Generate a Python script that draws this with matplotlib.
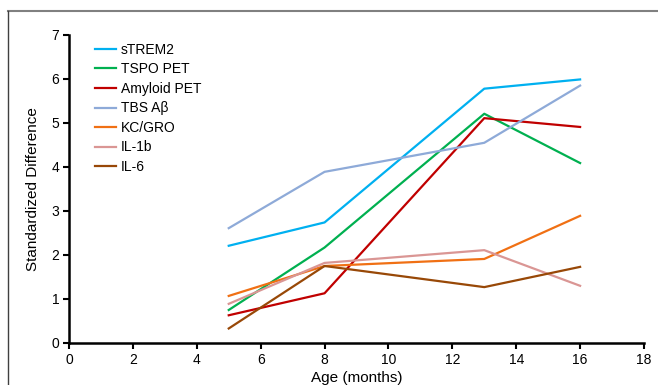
import matplotlib.pyplot as plt
from matplotlib.lines import Line2D

plt.rcParams['font.family'] = 'sans-serif'
plt.rcParams['font.sans-serif'] = ['Liberation Sans', 'DejaVu Sans']

# Ages (months) and standardized differences
ages = [5, 8, 13, 16]
strem2 = [2.21, 2.74, 5.78, 5.99]
tspo_pet = [0.75, 2.17, 5.21, 4.09]
amyloid_pet = [0.63, 1.13, 5.11, 4.91]
tbs_abeta = [2.61, 3.89, 4.55, 5.85]
kc_gro = [1.07, 1.75, 1.91, 2.89]
il_1b = [0.89, 1.82, 2.11, 1.30]
il_6 = [0.33, 1.75, 1.27, 1.73]

series = [
    ('sTREM2', strem2, '#00b0f0'),
    ('TSPO PET', tspo_pet, '#00b050'),
    ('Amyloid PET', amyloid_pet, '#c00000'),
    ('TBS A\u03b2', tbs_abeta, '#8eaad8'),
    ('KC/GRO', kc_gro, '#f07014'),
    ('IL-1b', il_1b, '#da9694'),
    ('IL-6', il_6, '#984807'),
]

fig = plt.figure(figsize=(6.58, 3.85), dpi=100, facecolor='white')
ax = fig.add_axes([0.1049, 0.1091, 0.8738, 0.8000])

for name, vals, col in series:
    ax.plot(ages, vals, color=col, lw=1.6, label=name)

ax.set_xlim(0, 18)
ax.set_ylim(0, 7)
ax.set_xticks(range(0, 19, 2))
ax.set_yticks(range(0, 8))
ax.spines['top'].set_visible(False)
ax.spines['right'].set_visible(False)
ax.spines['left'].set_linewidth(1.8)
ax.spines['bottom'].set_linewidth(1.8)
ax.tick_params(direction='out', length=4, width=1.5, labelsize=10, pad=3)

ax.set_xlabel('Age (months)', fontsize=11, labelpad=3)
ax.set_ylabel('Standardized Difference', fontsize=11, labelpad=8)

ax.legend(loc='upper left', bbox_to_anchor=(0.045, 0.975), frameon=False,
          fontsize=10, handlelength=1.55, handletextpad=0.3,
          labelspacing=0.4, borderpad=0, borderaxespad=0)

# outer frame (top and left edges visible in the original)
fig.add_artist(Line2D([8 / 658, 1.0], [1 - 11 / 385, 1 - 11 / 385],
                      transform=fig.transFigure, color='#808080', lw=1.5))
fig.add_artist(Line2D([8 / 658, 8 / 658], [0.0, 1 - 11 / 385],
                      transform=fig.transFigure, color='#404040', lw=1.0))

fig.savefig('out.png', dpi=100)
